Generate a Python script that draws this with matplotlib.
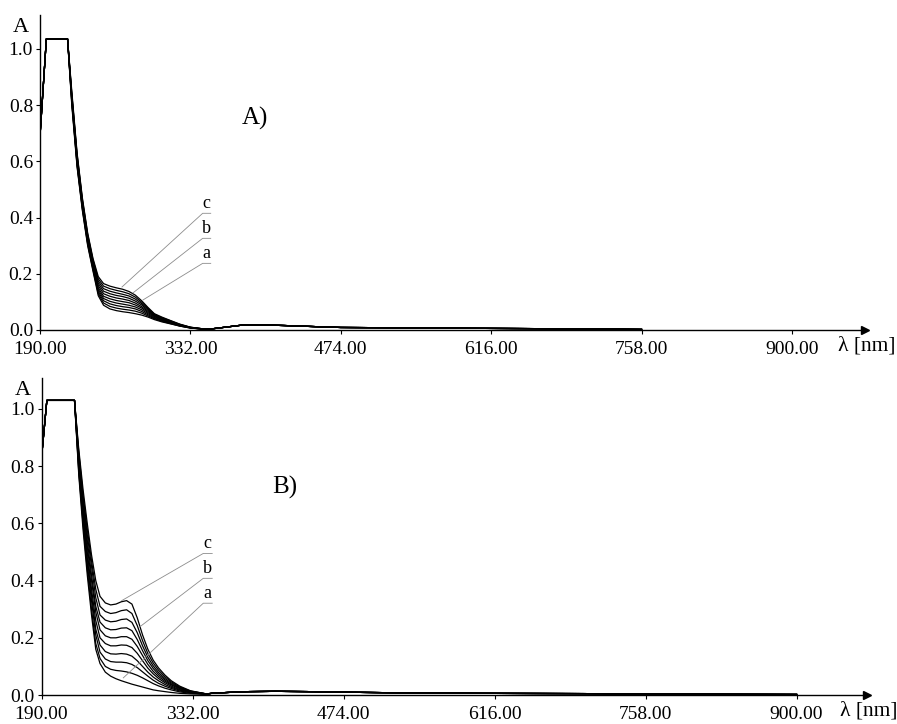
import numpy as np
import matplotlib.pyplot as plt

plt.rcParams['font.family'] = ['Liberation Serif', 'DejaVu Serif']

# ---- spectra, panel A ----
head_wl_A = [190, 196]
head_abs_A = [0.69, 1.035]
wl_A = [216, 220, 225, 230, 235, 240, 245, 250, 256, 262, 268, 274, 280, 286, 292, 298, 305, 313, 322, 332, 344]
curves_A = [
    [1.035, 0.85, 0.63, 0.47, 0.345, 0.255, 0.190, 0.165, 0.156, 0.150, 0.145, 0.137, 0.124, 0.104, 0.080, 0.058, 0.046, 0.034, 0.021, 0.010, 0.004],
    [1.035, 0.84, 0.625, 0.465, 0.34, 0.250, 0.182, 0.156, 0.147, 0.141, 0.136, 0.129, 0.117, 0.099, 0.077, 0.056, 0.044, 0.033, 0.020, 0.010, 0.004],
    [1.035, 0.84, 0.62, 0.46, 0.335, 0.245, 0.174, 0.147, 0.138, 0.132, 0.127, 0.121, 0.110, 0.094, 0.074, 0.054, 0.042, 0.031, 0.019, 0.009, 0.004],
    [1.035, 0.83, 0.615, 0.455, 0.33, 0.240, 0.166, 0.138, 0.129, 0.123, 0.119, 0.113, 0.103, 0.089, 0.070, 0.052, 0.041, 0.030, 0.018, 0.009, 0.004],
    [1.035, 0.83, 0.61, 0.45, 0.325, 0.235, 0.158, 0.129, 0.120, 0.114, 0.110, 0.105, 0.096, 0.083, 0.066, 0.050, 0.039, 0.029, 0.018, 0.009, 0.004],
    [1.035, 0.82, 0.60, 0.445, 0.32, 0.230, 0.150, 0.120, 0.111, 0.105, 0.101, 0.097, 0.089, 0.078, 0.062, 0.048, 0.037, 0.027, 0.017, 0.008, 0.003],
    [1.035, 0.82, 0.595, 0.44, 0.315, 0.225, 0.143, 0.112, 0.102, 0.096, 0.092, 0.088, 0.082, 0.072, 0.058, 0.045, 0.035, 0.026, 0.016, 0.008, 0.003],
    [1.035, 0.81, 0.59, 0.435, 0.31, 0.220, 0.136, 0.104, 0.093, 0.087, 0.083, 0.080, 0.075, 0.066, 0.054, 0.042, 0.033, 0.025, 0.015, 0.008, 0.003],
    [1.035, 0.81, 0.585, 0.43, 0.305, 0.215, 0.129, 0.096, 0.084, 0.078, 0.074, 0.071, 0.067, 0.060, 0.050, 0.040, 0.031, 0.023, 0.014, 0.007, 0.003],
    [1.035, 0.80, 0.58, 0.425, 0.30, 0.210, 0.122, 0.088, 0.075, 0.069, 0.065, 0.062, 0.058, 0.053, 0.046, 0.037, 0.029, 0.022, 0.014, 0.007, 0.003],
]
tail_wl_A = [350, 365, 380, 400, 420, 450, 474, 520, 600, 700, 758]
tail_abs_A = [0.003, 0.010, 0.017, 0.018, 0.016, 0.012, 0.009, 0.008, 0.006, 0.004, 0.002]

# ---- spectra, panel B ----
head_wl_B = [190, 195]
head_abs_B = [0.83, 1.03]
wl_B = [221, 225, 229, 233, 237, 241, 245, 250, 255, 260, 265, 270, 275, 280, 285, 290, 295, 300, 306, 312, 320, 330, 345]
curves_B = [
    [1.03, 0.86, 0.72, 0.60, 0.49, 0.40, 0.345, 0.322, 0.315, 0.318, 0.326, 0.330, 0.318, 0.270, 0.210, 0.160, 0.122, 0.095, 0.070, 0.050, 0.031, 0.015, 0.004],
    [1.03, 0.85, 0.70, 0.58, 0.47, 0.37, 0.310, 0.292, 0.285, 0.288, 0.295, 0.298, 0.285, 0.243, 0.190, 0.145, 0.112, 0.087, 0.064, 0.046, 0.028, 0.014, 0.004],
    [1.03, 0.84, 0.69, 0.56, 0.45, 0.34, 0.280, 0.262, 0.256, 0.258, 0.264, 0.266, 0.254, 0.218, 0.172, 0.132, 0.102, 0.079, 0.058, 0.042, 0.026, 0.013, 0.004],
    [1.03, 0.83, 0.67, 0.54, 0.42, 0.31, 0.255, 0.235, 0.228, 0.229, 0.234, 0.235, 0.225, 0.194, 0.155, 0.120, 0.093, 0.072, 0.053, 0.038, 0.024, 0.012, 0.004],
    [1.03, 0.82, 0.66, 0.52, 0.40, 0.29, 0.228, 0.207, 0.200, 0.200, 0.204, 0.204, 0.195, 0.170, 0.138, 0.107, 0.083, 0.065, 0.048, 0.035, 0.022, 0.011, 0.004],
    [1.03, 0.81, 0.64, 0.50, 0.37, 0.26, 0.200, 0.180, 0.172, 0.172, 0.175, 0.174, 0.166, 0.146, 0.120, 0.094, 0.074, 0.058, 0.043, 0.031, 0.019, 0.010, 0.003],
    [1.03, 0.80, 0.63, 0.48, 0.35, 0.23, 0.175, 0.152, 0.144, 0.143, 0.145, 0.143, 0.136, 0.120, 0.100, 0.080, 0.063, 0.050, 0.037, 0.027, 0.017, 0.009, 0.003],
    [1.03, 0.79, 0.61, 0.46, 0.33, 0.21, 0.150, 0.126, 0.117, 0.115, 0.115, 0.113, 0.107, 0.096, 0.081, 0.066, 0.052, 0.041, 0.031, 0.023, 0.014, 0.008, 0.003],
    [1.03, 0.78, 0.60, 0.44, 0.30, 0.18, 0.128, 0.100, 0.090, 0.086, 0.084, 0.081, 0.076, 0.069, 0.060, 0.050, 0.040, 0.032, 0.024, 0.018, 0.011, 0.006, 0.003],
    [1.03, 0.77, 0.58, 0.42, 0.28, 0.16, 0.110, 0.080, 0.066, 0.057, 0.050, 0.044, 0.038, 0.033, 0.028, 0.023, 0.018, 0.015, 0.012, 0.009, 0.006, 0.004, 0.003],
]
tail_wl_B = [350, 365, 385, 410, 440, 474, 520, 600, 700, 800, 900]
tail_abs_B = [0.006, 0.009, 0.012, 0.013, 0.012, 0.010, 0.008, 0.006, 0.005, 0.003, 0.002]

# curve labels with leader lines: label, line start on curve, underline level
labels = ['c', 'b', 'a']
lead_wl_A = [267.4, 277.8, 287.3]
lead_abs_A = [0.153, 0.132, 0.107]
under_abs_A = [0.415, 0.326, 0.237]
lead_wl_B = [265.4, 282.6, 266.9]
lead_abs_B = [0.330, 0.239, 0.060]
under_abs_B = [0.495, 0.408, 0.321]

xticks = [190, 332, 474, 616, 758, 900]
yticks = [0.0, 0.2, 0.4, 0.6, 0.8, 1.0]


def draw_panel(ax, head_wl, head_abs, wl, curves, tail_wl, tail_abs,
               lead_wl, lead_abs, under_abs, under_x, tag, tag_xy, xmax, ymax):
    for c in curves:
        x = list(head_wl) + list(wl) + list(tail_wl)
        y = list(head_abs) + list(c) + list(tail_abs)
        ax.plot(x, y, color='black', lw=0.9)

    for lab, lx, ly, uy in zip(labels, lead_wl, lead_abs, under_abs):
        ax.plot([lx, under_x[0], under_x[1]], [ly, uy, uy], color='#8c8c8c', lw=0.6)
        ax.text((under_x[0] + under_x[1]) / 2, uy + 0.004, lab, ha='center', va='bottom', fontsize=13)

    ax.text(tag_xy[0], tag_xy[1], tag, ha='center', va='center', fontsize=18)

    ax.set_xlim(190, xmax)
    ax.set_ylim(0, ymax)
    ax.spines['top'].set_visible(False)
    ax.spines['right'].set_visible(False)
    ax.spines['left'].set_linewidth(1.0)
    ax.spines['bottom'].set_linewidth(1.0)
    ax.plot(1, 0, '>', color='black', ms=6, transform=ax.get_yaxis_transform(), clip_on=False)
    ax.plot(0, 1, '^', color='black', ms=6, transform=ax.get_xaxis_transform(), clip_on=False)

    ax.set_xticks(xticks)
    ax.set_xticklabels([f'{t:.2f}' for t in xticks])
    ax.set_yticks(yticks)
    ax.set_yticklabels([f'{t:.1f}' for t in yticks])
    ax.tick_params(direction='out', length=3, width=0.8, labelsize=14)
    ax.tick_params(axis='x', pad=5)
    ax.tick_params(axis='y', pad=2)

    ax.text(-0.013, 0.962, 'A', transform=ax.transAxes,
            ha='right', va='center', fontsize=16)
    ax.text(0.9675, -0.05, 'λ [nm]', transform=ax.transAxes,
            ha='left', va='center', fontsize=15.5)


fig = plt.figure(figsize=(8.97, 7.24), dpi=100)
ax1 = fig.add_axes([0.0446, 0.5442, 0.9197, 0.435])
ax2 = fig.add_axes([0.0463, 0.0400, 0.9200, 0.4378])

draw_panel(ax1, head_wl_A, head_abs_A, wl_A, curves_A, tail_wl_A, tail_abs_A,
           lead_wl_A, lead_abs_A, under_abs_A, (343.6, 351.2), 'A)', (393, 0.754), 969, 1.12)
draw_panel(ax2, head_wl_B, head_abs_B, wl_B, curves_B, tail_wl_B, tail_abs_B,
           lead_wl_B, lead_abs_B, under_abs_B, (342.1, 350.5), 'B)', (419, 0.727), 966, 1.108)

fig.savefig('out.png', dpi=100)
